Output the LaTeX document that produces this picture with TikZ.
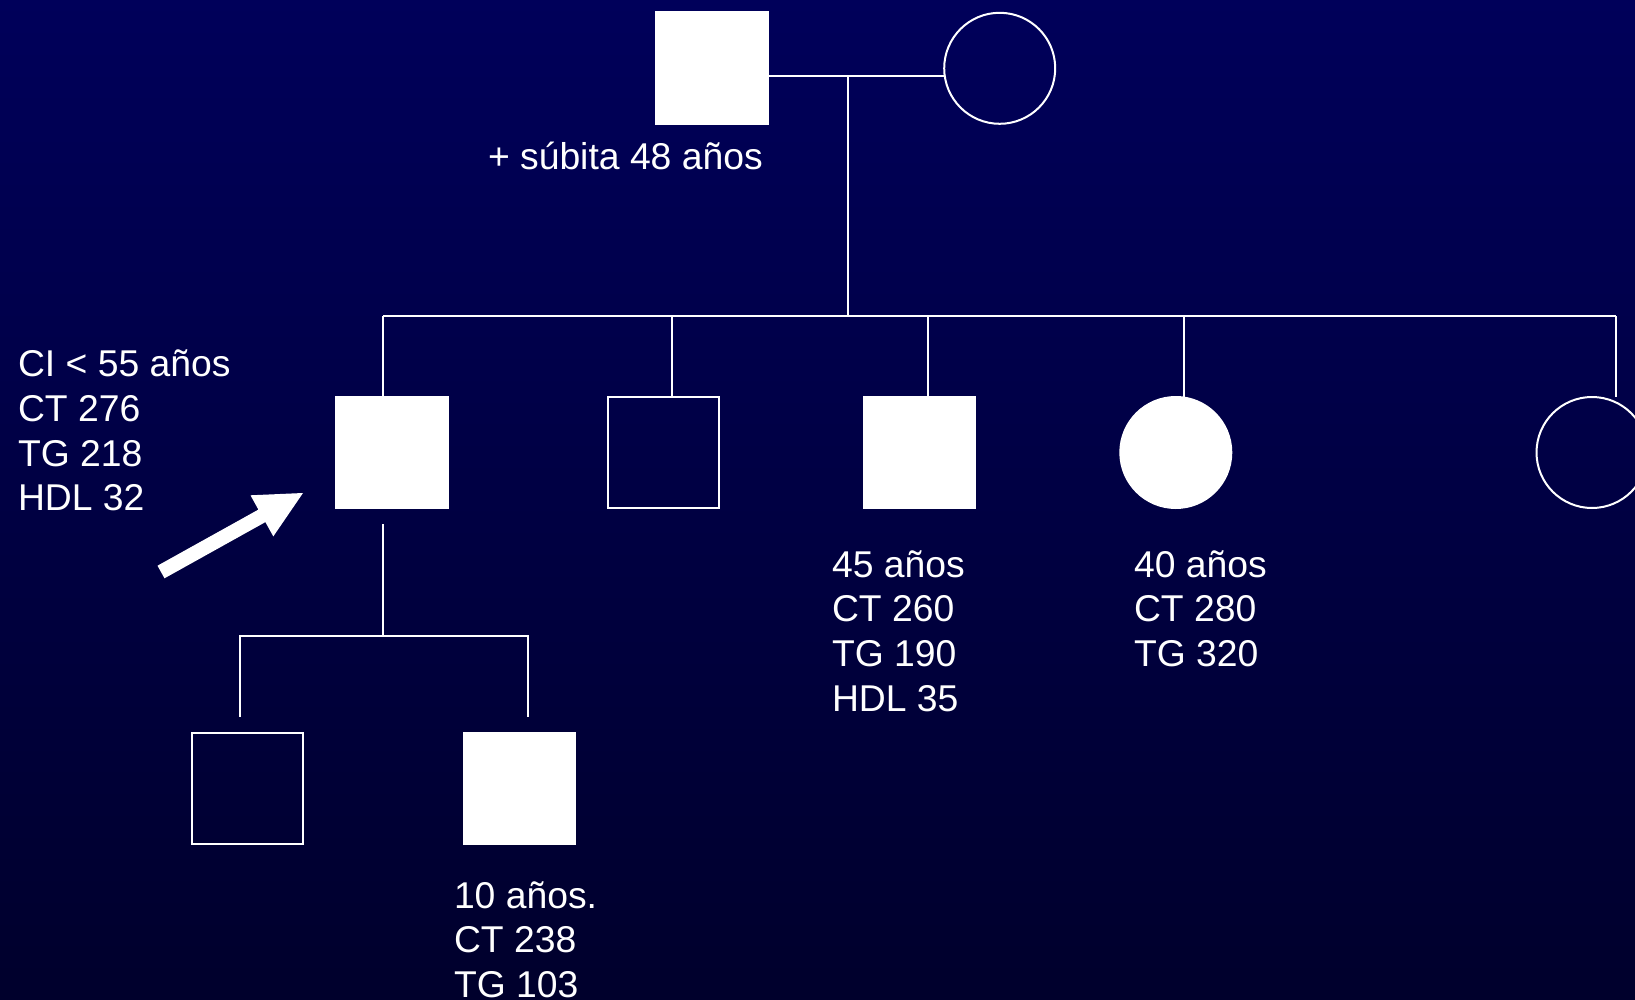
\documentclass[tikz,border=0pt]{standalone}
\usepackage{fontspec}
\setmainfont{Liberation Sans}
\definecolor{bgtop}{RGB}{0,0,90}
\definecolor{bgbot}{RGB}{0,0,44}
\begin{document}
\begin{tikzpicture}[x=1pt,y=-1pt,
  link/.style={draw=white,line width=2pt},
  male/.style={shape=rectangle,draw=white,line width=2pt,minimum size=111.5pt,inner sep=0pt,outer sep=0pt},
  female/.style={shape=circle,draw=white,line width=2pt,minimum size=111pt,inner sep=0pt,outer sep=0pt},
  affected/.style={fill=white},
  lbl/.style={text=white,font=\fontsize{37.3}{44.7}\selectfont,anchor=base west,inner sep=0pt,outer sep=0pt}]
\shade[top color=bgtop,bottom color=bgbot] (0,0) rectangle (1635,1000);
\useasboundingbox (0,0) rectangle (1635,1000);
% generation I
\node[male,affected] (father) at (712,68) {};
\node[female] (mother) at (999.7,68.3) {};
% generation II
\node[male,affected] (p1) at (392,452.5) {};
\node[male] (p2) at (663.7,452.5) {};
\node[male,affected] (p3) at (919.7,452.5) {};
\node[female,affected] (p4) at (1175.8,452.5) {};
\node[female] (p5) at (1592,452.5) {};
% generation III
\node[male] (g1) at (247.7,788.3) {};
\node[male,affected] (g2) at (519.7,788.3) {};
% connector points
\coordinate (mar) at (848,76.3);
\coordinate (sib) at (848,316);
\coordinate (d1) at (383.3,316);
\coordinate (d2) at (671.7,316);
\coordinate (d3) at (927.7,316);
\coordinate (d4) at (1183.7,316);
\coordinate (d5) at (1616,316);
\coordinate (d5e) at (1616,397);
\coordinate (pd) at (383.3,524);
\coordinate (pg) at (383.3,636);
\coordinate (gl) at (239.7,636);
\coordinate (gr) at (528,636);
\coordinate (gle) at (239.7,716.7);
\coordinate (gre) at (528,716.7);
% lines
\draw[link] (father.east |- mar) -- (mother.west |- mar);
\draw[link] (mar) -- (sib);
\draw[link] (d1) -- (d5);
\draw[link] (d1) -- (d1 |- p1.north);
\draw[link] (d2) -- (d2 |- p2.north);
\draw[link] (d3) -- (d3 |- p3.north);
\draw[link] (d4) -- (d4 |- p4.north);
\draw[link] (d5) -- (d5e);
\draw[link] (pd) -- (pg);
\draw[link] (gle) -- (gl) -- (gr) -- (gre);
% proband arrow
\fill[white] (303,493) -- (250.5,495.3) -- (258.4,509.6) -- (157.5,565.7)
  -- (164.5,578.3) -- (265.4,522.1) -- (273.3,536.4) -- cycle;
% labels
\node[lbl] (t0) at (488,170) {+ súbita 48 años};
\node[lbl] (a1) at (18,376.7) {CI < 55 años};
\node[lbl] (a2) at (18,421.4) {CT 276};
\node[lbl] (a3) at (18,466.1) {TG 218};
\node[lbl] (a4) at (18,510.8) {HDL 32};
\node[lbl] (b1) at (832,577) {45 años};
\node[lbl] (b2) at (832,621.7) {CT 260};
\node[lbl] (b3) at (832,666.4) {TG 190};
\node[lbl] (b4) at (832,711.1) {HDL 35};
\node[lbl] (c1) at (1134,577) {40 años};
\node[lbl] (c2) at (1134,621.7) {CT 280};
\node[lbl] (c3) at (1134,666.4) {TG 320};
\node[lbl] (e1) at (454,908) {10 años.};
\node[lbl] (e2) at (454,952.7) {CT 238};
\node[lbl] (e3) at (454,997.4) {TG 103};
\end{tikzpicture}
\end{document}
